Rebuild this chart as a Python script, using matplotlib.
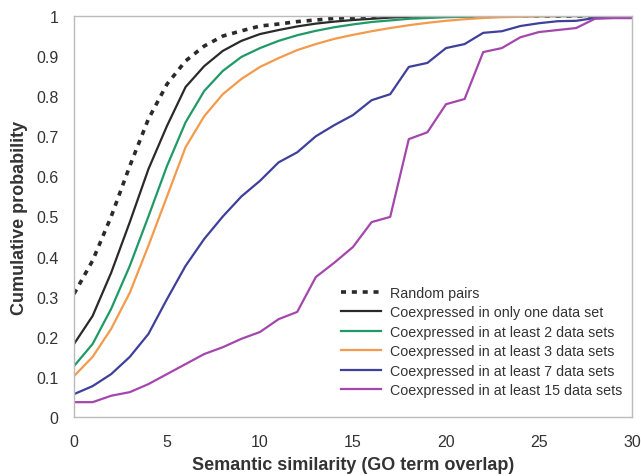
import matplotlib
matplotlib.use("Agg")
import matplotlib.pyplot as plt

plt.rcParams['font.family'] = ['Liberation Sans', 'DejaVu Sans']

x = list(range(0, 31))

random_pairs = [0.307, 0.39, 0.50, 0.626, 0.743, 0.83, 0.888, 0.925, 0.95, 0.963, 0.975, 0.98,
                0.986, 0.99, 0.994, 0.997, 0.999, 1.0, 1.0, 1.0, 1.0, 1.0, 1.0, 1.0, 1.0, 1.0,
                1.0, 1.0, 1.0, 1.0, 1.0]
only_one = [0.182, 0.252, 0.36, 0.486, 0.618, 0.726, 0.823, 0.875, 0.913, 0.938, 0.955, 0.965,
            0.974, 0.981, 0.986, 0.99, 0.993, 0.996, 0.998, 0.999, 1.0, 1.0, 1.0, 1.0, 1.0, 1.0,
            1.0, 1.0, 1.0, 1.0, 1.0]
least2 = [0.127, 0.182, 0.27, 0.377, 0.50, 0.626, 0.735, 0.813, 0.863, 0.898, 0.92, 0.938,
          0.952, 0.963, 0.972, 0.979, 0.985, 0.989, 0.993, 0.995, 0.997, 0.998, 0.999, 1.0, 1.0,
          1.0, 1.0, 1.0, 1.0, 1.0, 1.0]
least3 = [0.102, 0.15, 0.22, 0.31, 0.427, 0.55, 0.673, 0.75, 0.805, 0.843, 0.873, 0.895,
          0.915, 0.93, 0.943, 0.953, 0.962, 0.97, 0.977, 0.983, 0.988, 0.992, 0.995, 0.997,
          0.998, 0.999, 1.0, 1.0, 1.0, 1.0, 1.0]
least7 = [0.057, 0.077, 0.107, 0.15, 0.207, 0.294, 0.377, 0.444, 0.50, 0.55, 0.589, 0.635,
          0.66, 0.70, 0.728, 0.753, 0.79, 0.805, 0.873, 0.883, 0.92, 0.93, 0.958, 0.962, 0.975,
          0.982, 0.987, 0.988, 0.995, 0.995, 0.995]
least15 = [0.037, 0.037, 0.053, 0.062, 0.082, 0.107, 0.132, 0.157, 0.174, 0.195, 0.212, 0.244,
           0.262, 0.349, 0.385, 0.424, 0.486, 0.499, 0.693, 0.71, 0.78, 0.793, 0.91, 0.92, 0.947,
           0.96, 0.965, 0.97, 0.993, 0.995, 0.995]

labels = ["Random pairs",
          "Coexpressed in only one data set",
          "Coexpressed in at least 2 data sets",
          "Coexpressed in at least 3 data sets",
          "Coexpressed in at least 7 data sets",
          "Coexpressed in at least 15 data sets"]
colors = ["#2a2a2a", "#2a2a2a", "#1f9a66", "#f39a4c", "#3f3f9c", "#a447ad"]

fig = plt.figure(figsize=(6.41, 4.77), dpi=100)
ax = fig.add_axes([74/641, 1-418/477, (632-74)/641, (418-17)/477])

ax.plot(x, random_pairs, color=colors[0], lw=2.6, linestyle=(0, (1.4, 1.6)), label=labels[0])
series = [only_one, least2, least3, least7, least15]
for s, c, l in zip(series, colors[1:], labels[1:]):
    ax.plot(x, s, color=c, lw=1.6, label=l)

ax.set_xlim(0, 30)
ax.set_ylim(0, 1)
ax.set_xticks([0, 5, 10, 15, 20, 25, 30])
ax.set_yticks([i/10 for i in range(11)])
ax.set_yticklabels(["0"] + [f"0.{i}" for i in range(1, 10)] + ["1"])
ax.tick_params(length=0, labelsize=11.5, colors="#333333")
ax.tick_params(axis="y", pad=11)
ax.tick_params(axis="x", pad=12)
for sp in ax.spines.values():
    sp.set_color("#bbbbbb")
    sp.set_linewidth(1.0)

ax.set_xlabel("Semantic similarity (GO term overlap)", fontsize=13, fontweight="bold",
              color="#333333", labelpad=5)
ax.set_ylabel("Cumulative probability", fontsize=13, fontweight="bold", color="#333333",
              labelpad=6)

leg = ax.legend(loc="lower right", bbox_to_anchor=(1.0, 0.025), frameon=False, fontsize=10.3,
                handlelength=2.8, labelspacing=0.38, handletextpad=0.6, borderaxespad=0.3)
for t in leg.get_texts():
    t.set_color("#333333")

fig.savefig("out.png", dpi=100)
